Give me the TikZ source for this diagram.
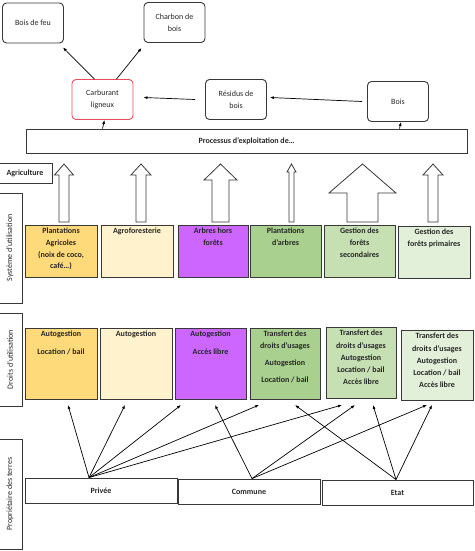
\documentclass[tikz,border=0pt]{standalone}
\usepackage{fontspec}
\setmainfont{Carlito}
\usepackage{xcolor}
\usetikzlibrary{arrows.meta,positioning}
\definecolor{myline}{gray}{0.22}
\definecolor{myred}{rgb}{0.93,0.30,0.35}
\definecolor{myorange}{RGB}{255,218,122}
\definecolor{mycream}{RGB}{255,242,204}
\definecolor{myviolet}{RGB}{204,102,255}
\definecolor{mygreen}{RGB}{169,208,142}
\definecolor{mygreenb}{RGB}{198,224,180}
\definecolor{mygreenc}{RGB}{226,240,217}
\begin{document}
\begin{tikzpicture}[x=1pt,y=-1pt,
every node/.style={font=\fontsize{8}{11.7}\selectfont,text=black!85},
topbox/.style={draw=myline,line width=0.9pt,rounded corners=4pt,minimum width=61pt,minimum height=40pt,align=center},
plainbox/.style={draw=myline,line width=0.9pt,align=center},
usebox/.style={draw=myline,line width=0.9pt,minimum width=72pt,minimum height=52pt},
boxtext/.style={align=center,font=\fontsize{8}{11.7}\selectfont\bfseries},
sidebox/.style={draw=myline,line width=0.9pt,rotate=90,minimum height=24pt},
link/.style={-{Latex[length=4pt,width=3pt]},line width=0.7pt},
blockarrow/.style={draw=myline,line width=0.8pt,fill=white}]
\useasboundingbox (0,0) rectangle (474,551);
% produits
\node[topbox] (feu) at (33,23) {Bois de feu};
\node[topbox] (charbon) at (174.5,22.5) {Charbon de\\bois};
\node[topbox,draw=myred] (carb) at (102.5,99.5) {Carburant\\ligneux};
\node[topbox] (residus) at (236,99.5) {Résidus de\\bois};
\node[topbox] (bois) at (398,101.5) {Bois};
\node[plainbox,minimum width=441pt,minimum height=24pt,font=\fontsize{8}{11.7}\selectfont\bfseries] (proc) at (246.5,141) {Processus d'exploitation de…};
\draw[link] ([xshift=-8pt]carb.north) -- ([xshift=-1pt,yshift=-4pt]feu.south east);
\draw[link] ([xshift=14pt]carb.north) -- ([xshift=-2pt,yshift=-5pt]charbon.south west);
\draw[link] ([xshift=-10pt]residus.west) -- ([xshift=10pt,yshift=2pt]carb.east);
\draw[link] ([xshift=-5pt]bois.west) -- ([xshift=3pt,yshift=2pt]residus.east);
\draw[link] ([xshift=-144pt]proc.north) -- ([xshift=2pt]carb.south);
\draw[link] ([xshift=153pt]proc.north) -- ([xshift=3pt]bois.south);
% etiquettes laterales
\node[plainbox,minimum width=54pt,minimum height=20pt,font=\fontsize{8}{11.7}\selectfont\bfseries] (agri) at (25,173) {Agriculture};
\node[sidebox,minimum width=110pt] (sys) at (10,248) {Système d'utilisation};
\node[sidebox,minimum width=93pt] (droits) at (10,359.5) {Droits d'utilisation};
\node[sidebox,minimum width=110pt] (prop) at (10,494) {Propriétaire des terres};
% fleches vers le processus
\foreach \cx/\sw/\hw/\hy in {64/5/9.5/175, 141/5/10/175, 220.5/8.5/16.5/180,
  291.5/2.5/4.5/172, 362.5/15.5/33.5/193, 433/5/10/175}
  \draw[blockarrow] ({\cx-\sw},222) -- ({\cx-\sw},\hy) -- ({\cx-\hw},\hy) -- (\cx,164)
    -- ({\cx+\hw},\hy) -- ({\cx+\sw},\hy) -- ({\cx+\sw},222) -- cycle;
% systemes d'utilisation
\node[usebox,fill=myorange] (s1) at (61,251) {};
\node[usebox,fill=mycream] (s2) at (137,251) {};
\node[usebox,fill=myviolet,minimum width=70pt] (s3) at (213,251) {};
\node[usebox,fill=mygreen,minimum width=71pt] (s4) at (285.5,251) {};
\node[usebox,fill=mygreenb,minimum width=71pt] (s5) at (359.5,251) {};
\node[usebox,fill=mygreenc] (s6) at (434,252) {};
\node[boxtext,below=0pt of s1.north] {Plantations\\Agricoles\\(noix de coco,\\café…)};
\node[boxtext,below=0pt of s2.north] {Agroforesterie};
\node[boxtext,below=0pt of s3.north] {Arbres hors\\forêts};
\node[boxtext,below=0pt of s4.north] {Plantations\\d'arbres};
\node[boxtext,below=0pt of s5.north] {Gestion des\\forêts\\secondaires};
\node[boxtext,below=0pt of s6.north] {Gestion des\\forêts primaires};
% droits d'utilisation
\node[usebox,fill=myorange,minimum height=71pt] (r1) at (61,363.5) {};
\node[usebox,fill=mycream,minimum height=71pt] (r2) at (136,363.5) {};
\node[usebox,fill=myviolet,minimum width=71pt,minimum height=71pt] (r3) at (210.5,363.5) {};
\node[usebox,fill=mygreen,minimum width=70pt,minimum height=71pt] (r4) at (285,363.5) {};
\node[usebox,fill=mygreenb,minimum width=70pt,minimum height=71pt] (r5) at (361,362.5) {};
\node[usebox,fill=mygreenc,minimum height=70pt] (r6) at (437,365) {};
\node[boxtext,below=0pt of r1.north] {Autogestion\\[6pt]Location / bail};
\node[boxtext,below=0pt of r2.north] {Autogestion};
\node[boxtext,below=0pt of r3.north] {Autogestion\\[6pt]Accès libre};
\node[boxtext,below=0pt of r4.north] {Transfert des\\droits d'usages\\[5pt]Autogestion\\[6pt]Location / bail};
\node[boxtext,below=0pt of r5.north,font=\fontsize{8}{12.3}\selectfont\bfseries] {Transfert des\\droits d'usages\\Autogestion\\Location / bail\\Accès libre};
\node[boxtext,below=0pt of r6.north,font=\fontsize{8}{12.3}\selectfont\bfseries] {Transfert des\\droits d'usages\\Autogestion\\Location / bail\\Accès libre};
% proprietaires
\node[plainbox,minimum width=152pt,minimum height=25pt,font=\fontsize{8}{11.7}\selectfont\bfseries] (privee) at (101,490.5) {Privée};
\node[plainbox,minimum width=142pt,minimum height=25pt,font=\fontsize{8}{11.7}\selectfont\bfseries] (commune) at (249,491.5) {Commune};
\node[plainbox,minimum width=151pt,minimum height=25pt,font=\fontsize{8}{11.7}\selectfont\bfseries] (etat) at (397.5,492.5) {Etat};
\coordinate (pv) at ([xshift=-12pt]privee.north);
\coordinate (cm) at ([xshift=3pt]commune.north);
\coordinate (et) at ([xshift=-1.5pt]etat.north);
\foreach \tx [count=\i] in {68,125,181,215,259,295,342,355,373,427,432}
  \coordinate (t\i) at (\tx,405);
\foreach \i in {1,2,3,5,7} \draw[link] (pv) -- (t\i);
\foreach \i in {4,8,10} \draw[link] (cm) -- (t\i);
\foreach \i in {6,9,11} \draw[link] (et) -- (t\i);
\end{tikzpicture}
\end{document}
